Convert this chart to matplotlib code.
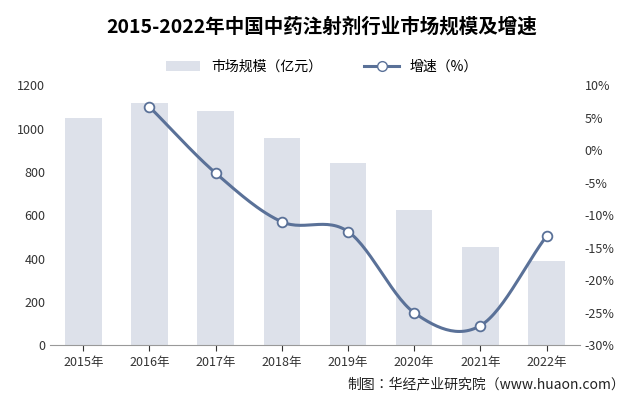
import matplotlib
matplotlib.use('Agg')
import matplotlib.pyplot as plt
from matplotlib import font_manager
import numpy as np

names = sorted({f.name for f in font_manager.fontManager.ttflist if 'CJK' in f.name})
cjk = names[0] if names else 'DejaVu Sans'
for n in names:
    if 'SC' in n:
        cjk = n
plt.rcParams['font.family'] = [cjk, 'DejaVu Sans']

years = ['2015年', '2016年', '2017年', '2018年', '2019年', '2020年', '2021年', '2022年']
scale = [1050, 1120, 1080, 955, 840, 625, 455, 390]
growth = [None, 6.7, -3.5, -11.0, -12.5, -25.0, -27.0, -13.2]


def smooth(xs, ys, n=30):
    # catmull-rom curve through the points, just for the look of the line
    xs = np.asarray(xs, float); ys = np.asarray(ys, float)
    px = np.concatenate([[2*xs[0]-xs[1]], xs, [2*xs[-1]-xs[-2]]])
    py = np.concatenate([[2*ys[0]-ys[1]], ys, [2*ys[-1]-ys[-2]]])
    ox, oy = [], []
    for i in range(1, len(px)-2):
        t = np.linspace(0, 1, n)
        for p, out in ((px, ox), (py, oy)):
            a, b, c, d = p[i-1], p[i], p[i+1], p[i+2]
            out.extend(0.5*((2*b) + (-a+c)*t + (2*a-5*b+4*c-d)*t**2 + (-a+3*b-3*c+d)*t**3))
    return ox, oy


fig = plt.figure(figsize=(6.44, 4.07), dpi=100)
ax = fig.add_axes([0.078, 0.152, 0.822, 0.638])
x = np.arange(len(years))
ax.bar(x, scale, width=0.55, color='#dde1ea', label='市场规模（亿元）')
ax.set_ylim(0, 1200)
ax.set_yticks(range(0, 1201, 200))
ax.set_xlim(-0.5, len(years)-0.5)
ax.set_xticks(x)
ax.set_xticklabels(years)
for s in ['top', 'right', 'left']:
    ax.spines[s].set_visible(False)
ax.spines['bottom'].set_color('#999999')
ax.tick_params(axis='y', length=0, labelsize=9, colors='#333333')
ax.tick_params(axis='x', length=4, labelsize=9, colors='#333333')

ax2 = ax.twinx()
gx = [i for i, g in enumerate(growth) if g is not None]
gy = [g for g in growth if g is not None]
sx, sy = smooth(gx, gy)
ax2.plot(sx, sy, color='#5a7198', lw=2.2)
ax2.plot(gx, gy, 'o', color='#5a7198', mfc='white', mec='#5a7198', ms=7, mew=1.3)
ax2.plot([], [], '-o', color='#5a7198', mfc='white', ms=7, lw=2.2, label='增速（%）')
ax2.set_ylim(-30, 10)
ax2.set_yticks(range(-30, 11, 5))
ax2.set_yticklabels([f'{v}%' for v in range(-30, 11, 5)])
for s in ax2.spines.values():
    s.set_visible(False)
ax2.tick_params(axis='y', length=0, labelsize=9, colors='#333333')

h1, l1 = ax.get_legend_handles_labels()
h2, l2 = ax2.get_legend_handles_labels()
fig.legend(h1 + h2, l1 + l2, loc='center', bbox_to_anchor=(0.5, 0.835), ncol=2,
           frameon=False, fontsize=10, handlelength=2.5, columnspacing=3)

fig.text(0.5, 0.935, '2015-2022年中国中药注射剂行业市场规模及增速', ha='center', va='center',
         fontsize=14, fontweight='bold')
fig.text(0.97, 0.055, '制图：华经产业研究院（www.huaon.com）', ha='right', va='center',
         fontsize=10, color='#222222')

fig.savefig('out.png', dpi=100)
